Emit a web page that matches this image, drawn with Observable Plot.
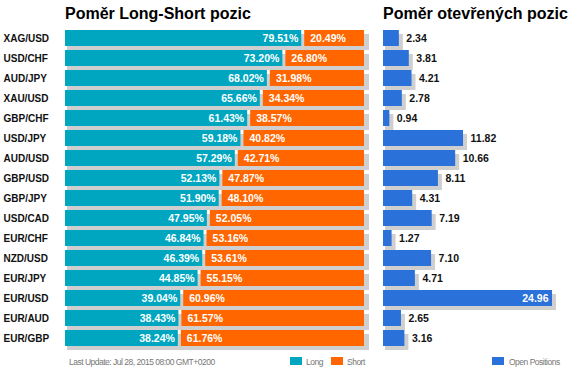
<!DOCTYPE html>
<html><head><meta charset="utf-8">
<script src="https://cdn.jsdelivr.net/npm/d3@7"></script>
<script src="https://cdn.jsdelivr.net/npm/@observablehq/plot@0.6"></script>
<style>
body{margin:0;background:#fff;font-family:Arial,"Liberation Sans",sans-serif;}
#wrap{position:relative;width:576px;height:376px;overflow:hidden;background:#fff;}
.title{position:absolute;top:4px;font-weight:bold;font-size:16px;color:#000;white-space:nowrap;line-height:20px;}
.chart{position:absolute;top:0;}
.leg{position:absolute;font-size:8.5px;letter-spacing:-0.5px;color:#777;white-space:nowrap;line-height:10px;}
.sw{position:absolute;width:12px;height:8px;}
</style></head>
<body>
<div id="wrap">
  <div class="title" style="left:65px">Poměr Long-Short pozic</div>
  <div class="title" style="left:383px">Poměr otevřených pozic</div>
  <div id="left" class="chart" style="left:0"></div>
  <div id="right" class="chart" style="left:372px"></div>
  <div class="leg" style="left:69px;top:357px">Last Update: Jul 28, 2015 08:00 GMT+0200</div>
  <div class="sw" style="left:290px;top:357px;background:#00a6bf"></div>
  <div class="leg" style="left:306px;top:357px">Long</div>
  <div class="sw" style="left:331px;top:357px;background:#ff6600"></div>
  <div class="leg" style="left:347px;top:357px">Short</div>
  <div class="sw" style="left:492px;top:357px;background:#2a71da"></div>
  <div class="leg" style="left:509px;top:357px">Open Positions</div>
</div>
<script>
const pairs = ["XAG/USD","USD/CHF","AUD/JPY","XAU/USD","GBP/CHF","USD/JPY","AUD/USD","GBP/USD","GBP/JPY","USD/CAD","EUR/CHF","NZD/USD","EUR/JPY","EUR/USD","EUR/AUD","EUR/GBP"];
const longPct = [79.51,73.20,68.02,65.66,61.43,59.18,57.29,52.13,51.90,47.95,46.84,46.39,44.85,39.04,38.43,38.24];
const shortPct = [20.49,26.80,31.98,34.34,38.57,40.82,42.71,47.87,48.10,52.05,53.16,53.61,55.15,60.96,61.57,61.76];
const openPos = [2.34,3.81,4.21,2.78,0.94,11.82,10.66,8.11,4.31,7.19,1.27,7.10,4.71,24.96,2.65,3.16];

const TEAL = "#00a6bf", ORANGE = "#ff6600", BLUE = "#2a71da", SHADOW = "#cfcfcf";
const data = pairs.map((p, i) => ({pair: p, long: longPct[i], short: shortPct[i], open: openPos[i]}));
const yScale = {domain: pairs, range: [25, 350.1], padding: 0.2};
const maxOpen = d3.max(openPos);

const left = Plot.plot({
  width: 372, height: 376, marginLeft: 65, marginRight: 8, marginTop: 0, marginBottom: 0,
  style: {fontFamily: "Arial, 'Liberation Sans', sans-serif", fontSize: "10px", background: "transparent", color: "#111"},
  x: {domain: [0, 100], axis: null},
  y: {...yScale, axis: null},
  marks: [
    Plot.barX(data, {x1: () => 0, x2: (d) => d.long + d.short, y: "pair", fill: SHADOW, dx: 2, dy: 4, insetRight: -3}),
    Plot.barX(data, {x1: () => 0, x2: "long", y: "pair", fill: TEAL, insetRight: 1.5}),
    Plot.barX(data, {x1: "long", x2: (d) => d.long + d.short, y: "pair", fill: ORANGE, insetLeft: 1.5}),
    Plot.text(data, {x: "long", y: "pair", text: (d) => d.long.toFixed(2) + "%", textAnchor: "end", dx: -5, fill: "white", fontWeight: "bold", fontSize: 10.5}),
    Plot.text(data, {x: "long", y: "pair", text: (d) => d.short.toFixed(2) + "%", textAnchor: "start", dx: 7, fill: "white", fontWeight: "bold", fontSize: 10.5}),
    Plot.text(data, {y: "pair", text: "pair", frameAnchor: "left", dx: -62, textAnchor: "start", fontWeight: "bold", fontSize: 10, fill: "#111"})
  ]
});
document.getElementById("left").appendChild(left);

const right = Plot.plot({
  width: 204, height: 376, marginLeft: 11, marginRight: 24, marginTop: 0, marginBottom: 0,
  style: {fontFamily: "Arial, 'Liberation Sans', sans-serif", fontSize: "10px", background: "transparent"},
  x: {domain: [0, maxOpen], axis: null},
  y: {...yScale, axis: null},
  marks: [
    Plot.barX(data, {x1: () => 0, x2: "open", y: "pair", fill: SHADOW, dx: 2, dy: 4, insetRight: -2}),
    Plot.barX(data, {x1: () => 0, x2: "open", y: "pair", fill: BLUE}),
    Plot.text(data, {filter: (d) => d.open < maxOpen * 0.8, x: "open", y: "pair", text: (d) => d.open.toFixed(2), textAnchor: "start", dx: 7, fill: "#111", fontWeight: "bold", fontSize: 10.5}),
    Plot.text(data, {filter: (d) => d.open >= maxOpen * 0.8, x: "open", y: "pair", text: (d) => d.open.toFixed(2), textAnchor: "end", dx: -4, fill: "white", fontWeight: "bold", fontSize: 10.5})
  ]
});
document.getElementById("right").appendChild(right);
</script>
</body></html>
